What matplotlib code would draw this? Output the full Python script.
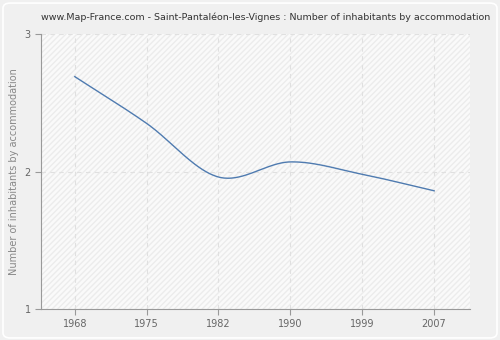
import numpy as np
import matplotlib.pyplot as plt
from matplotlib.patches import FancyBboxPatch

# Datos
anios = ['1968', '1975', '1982', '1990', '1999', '2007']
habitantes = [2.69, 2.35, 1.96, 2.07, 1.98, 1.86]
y_ticks = [1, 2, 3]


def suavizar(y, n=40):
    # Hermite cubico con tangentes tipo Catmull-Rom
    y = np.asarray(y, dtype=float)
    x = np.arange(len(y))
    m = np.gradient(y, x)
    xs, ys = [], []
    for i in range(len(y) - 1):
        t = np.linspace(0, 1, n)
        h00 = 2 * t**3 - 3 * t**2 + 1
        h10 = t**3 - 2 * t**2 + t
        h01 = -2 * t**3 + 3 * t**2
        h11 = t**3 - t**2
        xs.append(x[i] + t)
        ys.append(h00 * y[i] + h10 * m[i] + h01 * y[i + 1] + h11 * m[i + 1])
    return np.concatenate(xs), np.concatenate(ys)


fig = plt.figure(figsize=(5, 3.4), dpi=100)
fig.patch.set_facecolor('#f0f0f0')
fig.patches.append(FancyBboxPatch((0.006, 0.006), 0.988, 0.985,
                                  boxstyle='round,pad=0,rounding_size=0.015',
                                  transform=fig.transFigure, facecolor='none',
                                  edgecolor='#ffffff', linewidth=1.2))

ax = fig.add_axes([0.082, 0.091, 0.858, 0.809])
ax.set_facecolor('#fafafa')
ax.add_patch(plt.Rectangle((0, 0), 1, 1, transform=ax.transAxes,
                           facecolor='none', edgecolor='#ececec',
                           hatch='//////', linewidth=0, zorder=0))

x_s, y_s = suavizar(habitantes)
ax.plot(x_s, y_s, color='#4f7bb0', linewidth=1, zorder=3)

ax.set_xlim(-0.47, 5.5)
ax.set_ylim(1, 3)
ax.set_xticks(range(len(anios)))
ax.set_xticklabels(anios)
ax.set_yticks(y_ticks)

ax.grid(True, color='#e0e0e0', linestyle=(0, (4, 4)), linewidth=0.8)
for lado in ['top', 'right']:
    ax.spines[lado].set_visible(False)
for lado in ['left', 'bottom']:
    ax.spines[lado].set_color('#999999')
ax.tick_params(colors='#999999', labelcolor='#666666', labelsize=7, length=4)

ax.set_ylabel('Number of inhabitants by accommodation', fontsize=7, color='#888888')
ax.yaxis.set_label_coords(-0.051, 0.5)
fig.text(0.532, 0.948, 'www.Map-France.com - Saint-Pantaléon-les-Vignes : Number of inhabitants by accommodation',
         ha='center', va='center', fontsize=6.8, color='#333333')

fig.savefig('out.png', dpi=100, facecolor=fig.get_facecolor())
